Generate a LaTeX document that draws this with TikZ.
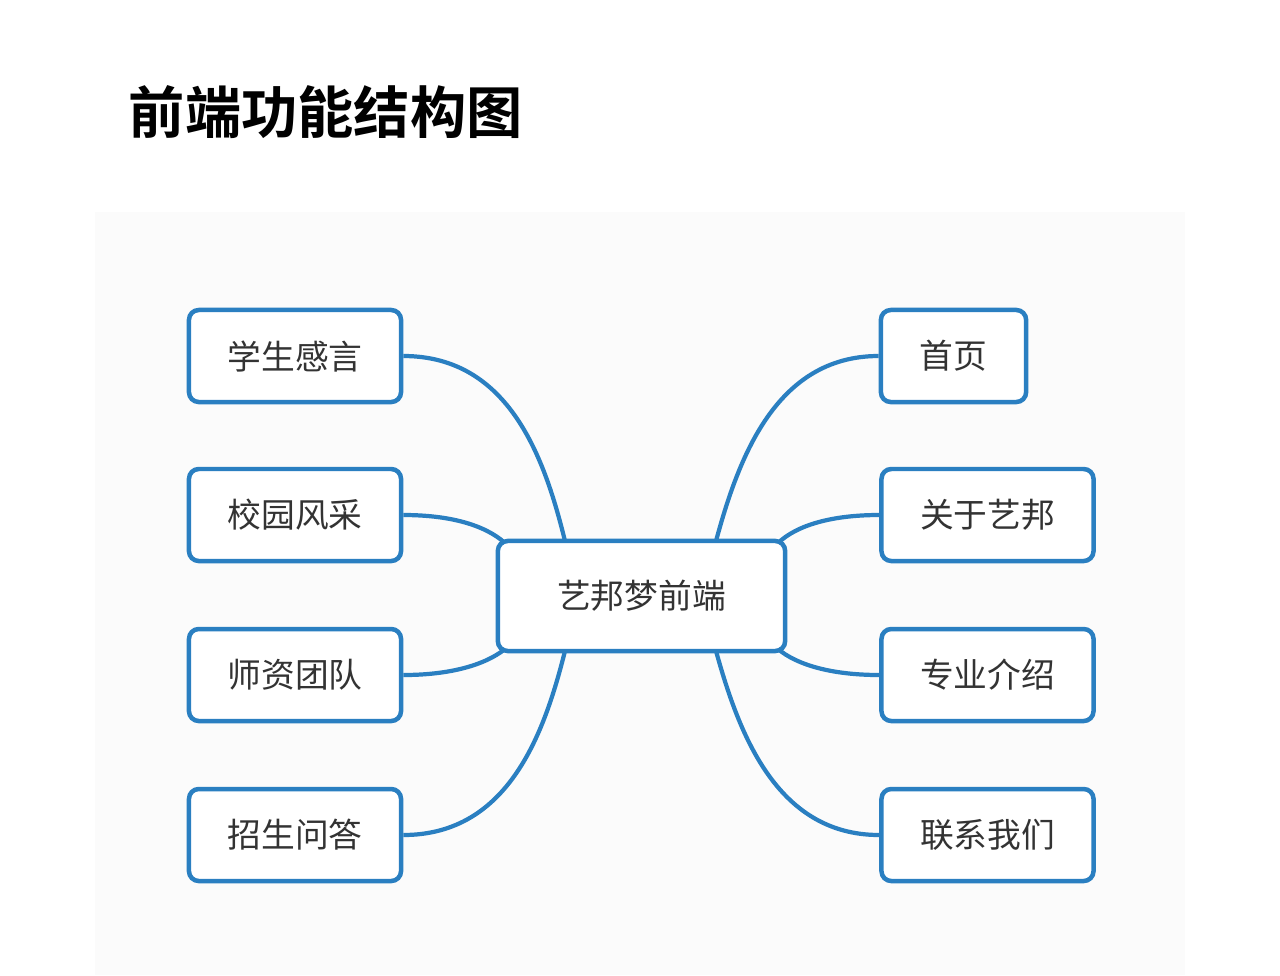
\documentclass[tikz,border=0pt]{standalone}
\usepackage{fontspec}
\setmainfont{Noto Sans CJK SC}
\newfontfamily\titlefont[BoldFont={* Bold}]{Noto Sans CJK SC}
\usetikzlibrary{positioning}
\definecolor{mapblue}{HTML}{2A7FC1}
\definecolor{textgray}{HTML}{333333}

\begin{document}
\begin{tikzpicture}[x=0.025cm, y=-0.025cm, line width=3.2pt,
    box/.style = {draw=mapblue, rounded corners=7pt, fill=white, text=textgray,
                  font=\fontsize{24}{28}\selectfont, minimum height=2.3cm, inner sep=0pt},
    link/.style = {draw=mapblue, line width=3pt}]
        \fill[white] (0,0) rectangle (1280,975);
        \fill[black!1.5] (95,212) rectangle (1185,975);
        \node[anchor=west, font=\titlefont\bfseries\fontsize{40}{44}\selectfont] (title) at (122,112) {前端功能结构图};

        \node[box, minimum width=7.18cm, minimum height=2.75cm] (hub) at (641.5,596) {艺邦梦前端};

        \node[box, minimum width=5.3cm] (l1) at (295,356) {学生感言};
        \node[box, minimum width=5.3cm] (l2) at (295,515) {校园风采};
        \node[box, minimum width=5.3cm] (l3) at (295,675) {师资团队};
        \node[box, minimum width=5.3cm] (l4) at (295,835) {招生问答};

        \node[box, minimum width=3.63cm] (r1) at (953.5,356) {首页};
        \node[box, minimum width=5.3cm] (r2) at (987.5,515) {关于艺邦};
        \node[box, minimum width=5.3cm] (r3) at (987.5,675) {专业介绍};
        \node[box, minimum width=5.3cm] (r4) at (987.5,835) {联系我们};

        \coordinate (ht1) at (565,541);
        \coordinate (ht2) at (505,543);
        \coordinate (hb2) at (505,649);
        \coordinate (hb1) at (565,651);
        \coordinate (hr1) at (716,541);
        \coordinate (hr2) at (778,543);
        \coordinate (hs2) at (778,649);
        \coordinate (hs1) at (716,651);

        \draw[link] (l1.east) .. controls (510,356) and (545,460) .. (ht1);
        \draw[link] (l2.east) .. controls (450,515) and (485,525) .. (ht2);
        \draw[link] (l3.east) .. controls (450,675) and (485,665) .. (hb2);
        \draw[link] (l4.east) .. controls (510,835) and (545,730) .. (hb1);
        \draw[link] (r1.west) .. controls (775,356) and (738,460) .. (hr1);
        \draw[link] (r2.west) .. controls (832,515) and (797,525) .. (hr2);
        \draw[link] (r3.west) .. controls (832,675) and (797,665) .. (hs2);
        \draw[link] (r4.west) .. controls (775,835) and (738,730) .. (hs1);
    \end{tikzpicture}
\end{document}
